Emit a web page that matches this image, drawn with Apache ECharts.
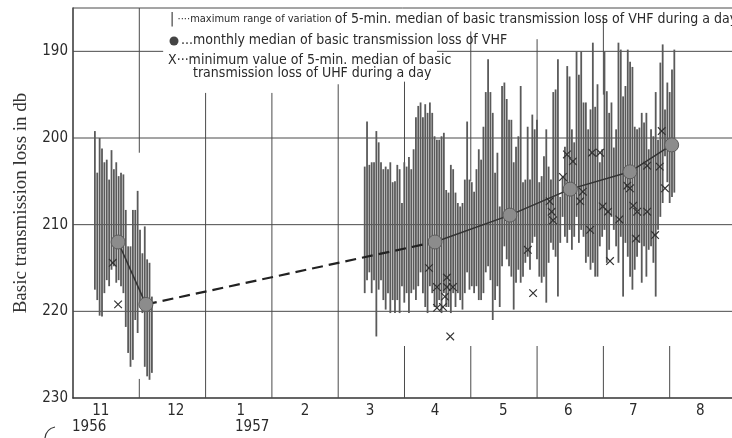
<!DOCTYPE html>
<html>
<head>
<meta charset="utf-8">
<script src="https://cdn.jsdelivr.net/npm/echarts@6/dist/echarts.min.js"></script>
<style>
html, body { margin: 0; padding: 0; background: #fff; }
#main { width: 732px; height: 438px; }
</style>
</head>
<body>
<div id="main"></div>
<script>
// x is measured in months from 1 Nov 1956 (every month drawn the same width)
const monthLabels = ['11', '12', '1', '2', '3', '4', '5', '6', '7', '8'];
const monthLabelPos = [0.42, 1.55, 2.53, 3.5, 4.48, 5.46, 6.49, 7.47, 8.45, 9.46];

// daily range of 5-min median of VHF loss, Nov-Dec 1956 (consecutive days)
const vhfStartA = 0.33, vhfEndA = 1.19;
const vhfTopA = [199.2, 204.0, 200.0, 201.2, 202.8, 202.5, 204.8, 201.4, 203.6, 202.8, 204.4, 204.0, 204.2,
  208.3, 212.5, 212.5, 208.3, 208.3, 206.1, 210.6, 213.3, 210.2, 214.0, 214.4, 218.3];
const vhfBottomA = [217.5, 218.7, 220.5, 220.6, 217.9, 216.4, 217.1, 215.2, 214.8, 216.7, 216.4, 217.1, 217.9,
  221.8, 224.8, 226.4, 225.6, 221.0, 222.5, 219.4, 220.2, 226.4, 227.5, 227.9, 227.1];

// daily range, Mar-Aug 1957 (consecutive days)
const vhfStartB = 4.40, vhfEndB = 9.07;
const vhfTopB = [
  203.3, 198.1, 203.1, 202.8, 202.8, 199.2, 200.5, 202.8, 203.6, 203.3, 203.6, 202.8, 205.1, 205.0,
  203.1, 203.6, 207.5, 202.8, 203.3, 202.2, 203.6, 201.3, 197.6, 196.3, 195.9, 197.6, 196.1, 197.1,
  195.9, 197.1, 199.8, 200.2, 200.2, 199.8, 199.4, 206.0, 206.3, 203.1, 203.6, 206.3, 207.5, 207.9,
  207.5, 204.8, 198.1, 204.8, 205.1, 206.2, 203.6, 201.3, 202.5, 198.7, 194.7, 190.9, 194.7, 197.1,
  204.0, 201.7, 207.9, 194.0, 193.6, 195.5, 197.9,
  197.9, 202.8, 201.0, 199.8, 194.0, 205.1, 204.8, 198.7, 204.8, 197.3, 199.0, 197.9, 205.1, 204.4,
  202.1, 199.0, 203.3, 204.8, 194.7, 194.4, 190.9, 206.8, 204.4, 201.0, 191.7, 192.9, 199.0, 200.5,
  190.0, 192.7, 190.0, 195.9,
  195.9, 199.0, 196.7, 189.0, 196.4, 193.8, 202.8, 201.3, 190.0, 194.6, 197.1, 195.9, 201.1, 199.0,
  189.0, 189.8, 195.2, 194.0, 189.8, 191.2, 191.8, 198.7, 199.0, 198.8, 197.1, 198.2, 197.1, 201.3,
  199.0, 199.8, 194.7, 200.2, 191.3, 189.2, 196.7, 193.6, 194.7, 192.1, 189.8];
const vhfBottomB = [
  217.9, 216.4, 215.5, 217.9, 216.4, 222.9, 217.5, 216.4, 218.7, 219.8, 217.9, 220.2, 218.7, 220.2,
  218.7, 220.2, 217.1, 219.0, 217.9, 220.2, 217.9, 217.5, 218.7, 217.1, 215.5, 217.9, 219.5, 220.2,
  217.1, 217.9, 219.5, 219.5, 218.7, 220.2, 217.9, 219.5, 219.5, 220.2, 217.9, 219.5, 217.9, 218.7,
  219.8, 217.9, 215.5, 217.5, 217.1, 217.9, 217.1, 218.7, 218.7, 217.9, 215.5, 214.8, 216.4, 221.0,
  218.7, 217.1, 219.5, 214.8, 212.5, 214.0, 214.8,
  216.0, 219.8, 216.7, 215.2, 216.7, 216.0, 214.4, 213.7, 215.2, 212.1, 211.4, 214.0, 216.0, 216.7,
  216.0, 219.0, 214.4, 212.1, 212.9, 213.7, 218.3, 212.1, 209.1, 211.4, 212.1, 210.6, 212.9, 211.4,
  209.1, 212.1, 210.6, 211.4,
  214.4, 213.7, 215.2, 214.4, 216.0, 216.0, 212.5, 211.4, 210.6, 214.4, 212.9, 209.1, 210.6, 212.5,
  214.4, 211.4, 218.3, 212.1, 213.7, 216.0, 217.5, 215.2, 213.7, 212.1, 216.7, 212.5, 216.0, 212.9,
  212.5, 214.4, 218.3, 210.6, 209.1, 207.5, 202.1, 205.1, 207.5, 206.8, 206.3];

// monthly median of VHF loss
const medianX = [0.68, 1.10, 5.46, 6.59, 7.50, 8.40, 9.03];
const medianY = [212.0, 219.2, 212.0, 208.9, 205.9, 203.9, 200.8];

// minimum 5-min median of UHF loss during a day
const uhfX = [0.60, 0.68, 5.37, 5.49, 5.64, 5.64, 5.61, 5.49, 5.58, 5.73, 5.69, 6.86, 6.94, 7.19, 7.22,
  7.24, 7.39, 7.45, 7.54, 7.65, 7.69, 7.80, 7.83, 7.95, 7.99, 8.07, 8.10, 8.24, 8.36, 8.40, 8.45, 8.51,
  8.49, 8.66, 8.66, 8.85, 8.88, 8.93, 8.78];
const uhfY = [214.4, 219.2, 215.0, 217.2, 216.1, 217.2, 218.3, 219.6, 219.5, 217.2, 222.9, 212.9, 217.9,
  207.3, 208.5, 209.5, 204.5, 201.9, 202.7, 207.3, 206.2, 210.6, 201.7, 201.7, 207.9, 208.5, 214.2,
  209.4, 205.5, 205.8, 207.8, 208.5, 211.6, 208.5, 203.2, 203.3, 199.2, 205.8, 211.2];

const X_MAX = 9.94;

// grid segments [x1, y1, x2, y2] in axis units
const gridSegments = [
  [0, 185, X_MAX, 185],
  [0, 190, 1.36, 190], [5.49, 190, X_MAX, 190],
  [0, 200, X_MAX, 200], [0, 210, X_MAX, 210], [0, 220, X_MAX, 220],
  [1, 185, 1, 201.7], [1, 227.8, 1, 230],
  [2, 194.8, 2, 230], [3, 194.8, 3, 230], [4, 193.8, 4, 230],
  [5, 193.5, 5, 212], [5, 224, 5, 230],
  [6, 187.7, 6, 205], [6, 224, 6, 230],
  [7, 188.6, 7, 200], [7, 224, 7, 230],
  [8, 186, 8, 195], [8, 224, 8, 230],
  [9, 224, 9, 230]
];

function buildBars(start, end, tops, bottoms) {
  let out = [];
  let n = tops.length;
  for (let i = 0; i < n; i++) {
    out.push([start + (end - start) * i / (n - 1), tops[i], bottoms[i]]);
  }
  return out;
}
let barData = buildBars(vhfStartA, vhfEndA, vhfTopA, vhfBottomA)
  .concat(buildBars(vhfStartB, vhfEndB, vhfTopB, vhfBottomB));

let medianPts = medianX.map((x, i) => [x, medianY[i]]);
let uhfPts = uhfX.map((x, i) => [x, uhfY[i]]);

const hand = "'DejaVu Sans Condensed', 'Liberation Sans Narrow', sans-serif";
const ink = '#2a2a2a';

let chart = echarts.init(document.getElementById('main'));
let option = {
  animation: false,
  backgroundColor: '#fff',
  grid: { left: 73, right: 0, top: 8, bottom: 40 },
  xAxis: {
    type: 'value',
    min: 0,
    max: X_MAX,
    axisLine: { show: true, lineStyle: { color: '#333', width: 1.5 } },
    axisTick: { show: false },
    splitLine: { show: false },
    axisLabel: {
      customValues: monthLabelPos,
      margin: 6,
      fontFamily: hand,
      fontSize: 15,
      color: ink,
      formatter: function (v) {
        let best = 0;
        for (let i = 1; i < monthLabelPos.length; i++) {
          if (Math.abs(monthLabelPos[i] - v) < Math.abs(monthLabelPos[best] - v)) best = i;
        }
        return monthLabels[best];
      }
    }
  },
  yAxis: {
    type: 'value',
    inverse: true,
    min: 185,
    max: 230,
    interval: 5,
    name: 'Basic transmission loss in db',
    nameLocation: 'middle',
    nameGap: 42,
    nameTextStyle: { fontFamily: "'Liberation Serif', 'DejaVu Serif', serif", fontSize: 19, color: '#333' },
    axisLine: { show: true, lineStyle: { color: '#333', width: 1.5 } },
    axisTick: { show: false },
    splitLine: { show: false },
    axisLabel: {
      margin: 5,
      fontFamily: hand,
      fontSize: 15,
      color: ink,
      formatter: v => (v % 10 === 0 ? String(v) : '')
    }
  },
  series: [
    {
      type: 'custom',
      name: 'grid',
      silent: true,
      clip: false,
      z: 1,
      data: gridSegments,
      renderItem: function (params, api) {
        let a = api.coord([api.value(0), api.value(1)]);
        let b = api.coord([api.value(2), api.value(3)]);
        return { type: 'line', shape: { x1: a[0], y1: a[1], x2: b[0], y2: b[1] },
          style: { stroke: '#4a4a4a', lineWidth: 1 } };
      }
    },
    {
      type: 'custom',
      name: 'VHF range',
      z: 2,
      data: barData,
      renderItem: function (params, api) {
        let a = api.coord([api.value(0), api.value(1)]);
        let b = api.coord([api.value(0), api.value(2)]);
        return { type: 'line', shape: { x1: a[0], y1: a[1], x2: b[0], y2: b[1] },
          style: { stroke: '#5a5a5a', lineWidth: 1.8 } };
      }
    },
    {
      type: 'line', name: 'median1', z: 3, symbol: 'none',
      data: medianPts.slice(0, 2),
      lineStyle: { color: '#333', width: 1.5 }
    },
    {
      type: 'line', name: 'median2', z: 3, symbol: 'none',
      data: medianPts.slice(1, 3),
      lineStyle: { color: '#222', width: 2.2, type: [11, 6] }
    },
    {
      type: 'line', name: 'median3', z: 3, symbol: 'none',
      data: medianPts.slice(2),
      lineStyle: { color: '#333', width: 1.5 }
    },
    {
      type: 'scatter', name: 'monthly median', z: 4,
      data: medianPts,
      symbolSize: 14,
      itemStyle: { color: '#8c8c8c', borderColor: '#5c5c5c', borderWidth: 1, opacity: 1 }
    },
    {
      type: 'custom',
      name: 'UHF minimum',
      z: 5,
      data: uhfPts,
      renderItem: function (params, api) {
        let c = api.coord([api.value(0), api.value(1)]);
        let h = 3.8;
        let st = { stroke: '#333', lineWidth: 1.2 };
        return { type: 'group', children: [
          { type: 'line', shape: { x1: c[0] - h, y1: c[1] - h, x2: c[0] + h, y2: c[1] + h }, style: st },
          { type: 'line', shape: { x1: c[0] - h, y1: c[1] + h, x2: c[0] + h, y2: c[1] - h }, style: st }
        ] };
      }
    }
  ],
  graphic: [
    { type: 'text', left: 170, top: 12, z: 10,
      style: { text: '{a||} {s|····maximum range of variation} {b|of 5-min. median of basic transmission loss of VHF during a day}',
        rich: {
          a: { fontFamily: hand, fontSize: 14, fill: ink },
          s: { fontFamily: hand, fontSize: 11, fill: ink },
          b: { fontFamily: hand, fontSize: 14, fill: ink }
        } } },
    { type: 'circle', shape: { cx: 174, cy: 41, r: 4.5 }, style: { fill: '#444' }, z: 10 },
    { type: 'text', left: 181, top: 33, z: 10,
      style: { text: '...monthly median of basic transmission loss of VHF', fontFamily: hand, fontSize: 14, fill: ink } },
    { type: 'text', left: 168, top: 53, z: 10,
      style: { text: 'X···minimum value of 5-min. median of basic', fontFamily: hand, fontSize: 14, fill: ink } },
    { type: 'text', left: 193, top: 66, z: 10,
      style: { text: 'transmission loss of UHF during a day', fontFamily: hand, fontSize: 14, fill: ink } },
    { type: 'text', left: 72, top: 420, z: 10,
      style: { text: '1956', fontFamily: hand, fontSize: 15, fill: ink } },
    { type: 'text', left: 235, top: 420, z: 10,
      style: { text: '1957', fontFamily: hand, fontSize: 15, fill: ink } },
    { type: 'bezierCurve', z: 10,
      shape: { x1: 45, y1: 438, x2: 55, y2: 427, cpx1: 46, cpy1: 429 },
      style: { stroke: '#333', lineWidth: 1.2, fill: null } }
  ]
};
chart.setOption(option);
</script>
</body>
</html>
